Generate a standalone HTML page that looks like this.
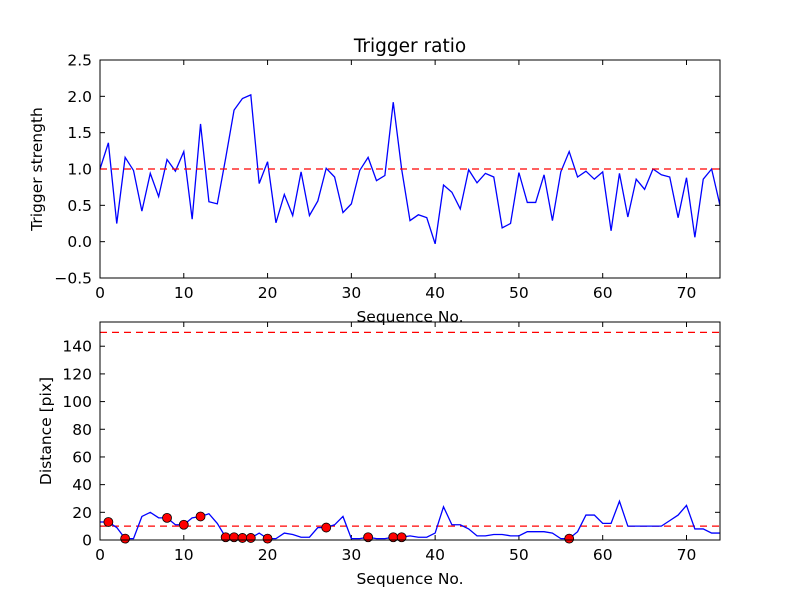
<!DOCTYPE html>
<html><head><meta charset="utf-8"><style>body{margin:0;background:#fff}svg{display:block;font-family:"DejaVu Sans","Liberation Sans",sans-serif}</style></head>
<body>
<svg id="chart" width="800" height="600"></svg>
<script>
const seqTop=[0,1,2,3,4,5,6,7,8,9,10,11,12,13,14,15,16,17,18,19,20,21,22,23,24,25,26,27,28,29,30,31,32,33,34,35,36,37,38,39,40,41,42,43,44,45,46,47,48,49,50,51,52,53,54,55,56,57,58,59,60,61,62,63,64,65,66,67,68,69,70,71,72,73,74];
const strength=[1.0,1.36,0.25,1.16,0.98,0.42,0.94,0.62,1.13,0.97,1.24,0.31,1.62,0.55,0.52,1.15,1.81,1.97,2.02,0.80,1.10,0.26,0.65,0.36,0.96,0.36,0.56,1.01,0.89,0.40,0.52,0.98,1.16,0.84,0.91,1.92,1.0,0.29,0.37,0.33,-0.03,0.78,0.68,0.45,0.99,0.81,0.94,0.89,0.19,0.25,0.95,0.54,0.54,0.92,0.29,0.96,1.24,0.89,0.97,0.86,0.96,0.15,0.94,0.34,0.86,0.72,1.0,0.92,0.89,0.33,0.88,0.06,0.86,1.0,0.5];
const distance=[13,13,9,1,1,17,20,16,16,11,11,16,17,19,12,2,2,1.5,1.5,5,1,1,5,4,2,2,9,9,11,17,1,1,2,1,1,2,2,3,2,2,5,24,11,11,8,3,3,4,4,3,3,6,6,6,5,1,1,6,18,18,12,12,28,10,10,10,10,10,14,18,25,8,8,5,5];
const flagIdx=[1,3,8,10,12,15,16,17,18,20,27,32,35,36,56];
const topTicksY=[-0.5,0.0,0.5,1.0,1.5,2.0,2.5];
const botTicksY=[0,20,40,60,80,100,120,140];
const ticksX=[0,10,20,30,40,50,60,70];
const topThreshold=1.0, botThresholds=[10,150];

const svg=document.getElementById('chart');const NS='http://www.w3.org/2000/svg';
function mk(t,a,p){const e=document.createElementNS(NS,t);for(const k in a)e.setAttribute(k,a[k]);(p||svg).appendChild(e);return e;}
const L=100,R=720;
const sx=v=>L+(v-0)/74*(R-L);
function panel(name,top,bot,ymin,ymax,ticksY,fmt,ylabel,title){
  const g=mk('g',{});
  
  
  const sy=v=>bot-(v-ymin)/(ymax-ymin)*(bot-top);
  ticksY.forEach(t=>{const y=sy(t);
    mk('line',{x1:L,x2:L+5,y1:y,y2:y,stroke:'#000'},g);mk('line',{x1:R,x2:R-5,y1:y,y2:y,stroke:'#000'},g);
    const tx=mk('text',{x:L-8,y:y+5.5,'text-anchor':'end','font-size':'15.5'},g);tx.textContent=fmt(t).replace('-','\u2212');
    
    });
  ticksX.forEach(t=>{const x=sx(t);
    mk('line',{x1:x,x2:x,y1:bot,y2:bot-5,stroke:'#000'},g);mk('line',{x1:x,x2:x,y1:top,y2:top+5,stroke:'#000'},g);
    const tx=mk('text',{x:x,y:bot+20,'text-anchor':'middle','font-size':'15.5'},g);tx.textContent=t;
    
    });
  const yl=mk('text',{x:0,y:0,transform:`translate(${name==='top-panel'?42:51},${(top+bot)/2}) rotate(-90)`,'text-anchor':'middle','font-size':'15.5'},g);yl.textContent=ylabel;
  
  
  const xl=mk('text',{x:(L+R)/2,y:bot+44,'text-anchor':'middle','font-size':'15.5'},g);xl.textContent='Sequence No.';
  
  
  if(title){const tt=mk('text',{x:(L+R)/2,y:top-8,'text-anchor':'middle','font-size':'18.5'},g);tt.textContent=title;
    
    }
  return {g,sy};
}
const P1=panel('top-panel',60,278,-0.5,2.5,topTicksY,v=>v.toFixed(1),'Trigger strength','Trigger ratio');
let d=seqTop.map((x,i)=>(i?'L':'M')+sx(x)+','+P1.sy(strength[i])).join('');
const l1=mk('path',{d,fill:'none',stroke:'#0000ff','stroke-width':1.3},P1.g);


const th1=mk('line',{x1:L,x2:R,y1:P1.sy(topThreshold),y2:P1.sy(topThreshold),stroke:'#ff0000','stroke-width':1.3,'stroke-dasharray':'7,5'},P1.g);


mk('rect',{x:L,y:60,width:R-L,height:218,fill:'none',stroke:'#000'},P1.g);

const P2=panel('bottom-panel',322,540,0,157.5,botTicksY,v=>String(v),'Distance [pix]',null);
botThresholds.forEach(t=>{const ln=mk('line',{x1:L,x2:R,y1:P2.sy(t),y2:P2.sy(t),stroke:'#ff0000','stroke-width':1.3,'stroke-dasharray':'7,5'},P2.g);
  
  });
d=seqTop.map((x,i)=>(i?'L':'M')+sx(x)+','+P2.sy(distance[i])).join('');
const l2=mk('path',{d,fill:'none',stroke:'#0000ff','stroke-width':1.3},P2.g);


flagIdx.forEach(i=>{const c=mk('circle',{cx:sx(seqTop[i]),cy:P2.sy(distance[i]),r:4.5,fill:'#ff0000',stroke:'#000','stroke-width':0.8},P2.g);
  
  });
mk('rect',{x:L,y:322,width:R-L,height:218,fill:'none',stroke:'#000'},P2.g);
</script>
</body></html>
